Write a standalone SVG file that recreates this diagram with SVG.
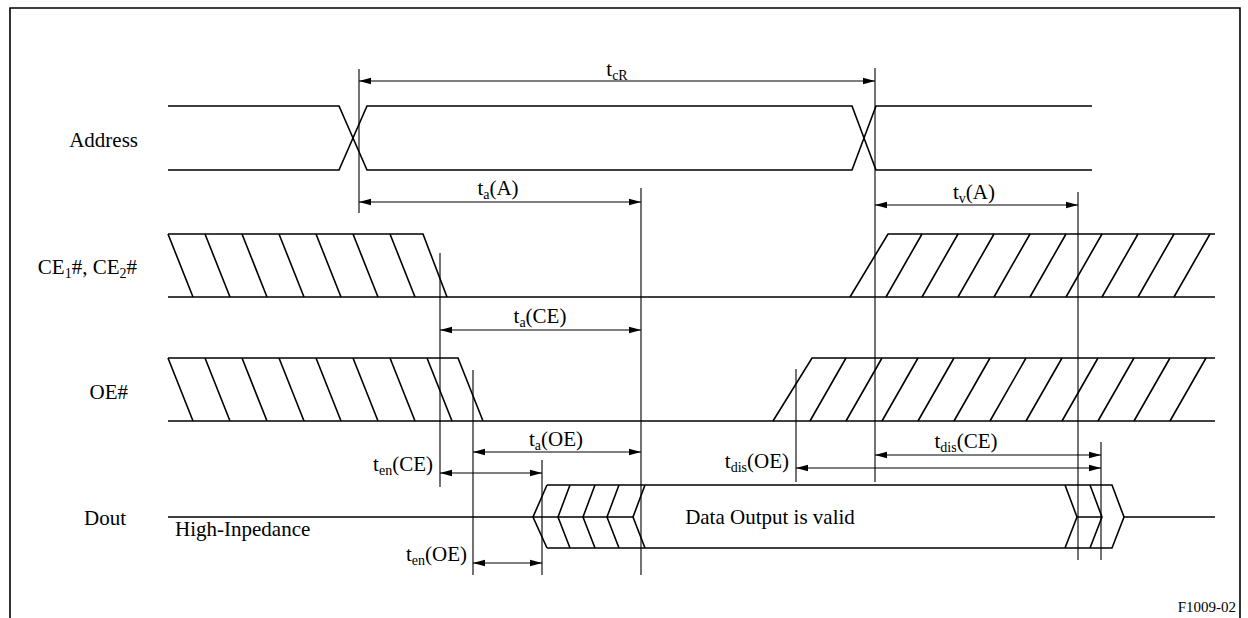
<svg xmlns="http://www.w3.org/2000/svg" width="1248" height="618" viewBox="0 0 1248 618">
<style>
.sig{fill:none;stroke:#000;stroke-width:1.6;stroke-linejoin:miter}
.dim{fill:none;stroke:#000;stroke-width:1.1}
.arr{fill:none;stroke:#000;stroke-width:1.1;marker-start:url(#ah);marker-end:url(#ah)}
.lbl{font-family:"Liberation Serif","Times New Roman",serif;font-size:21px;fill:#000}
.sub{font-size:14px}
</style>
<defs>
<marker id="ah" markerUnits="userSpaceOnUse" markerWidth="12" markerHeight="8" refX="12" refY="4" orient="auto-start-reverse">
<path d="M0,0.8 L12,4 L0,7.2 z" fill="#000"/>
</marker>
</defs>
<rect x="0" y="0" width="1248" height="618" fill="#fff"/>
<path class="sig" d="M10,640 L10,8 L1240,8 L1240,640" stroke-width="1.3"/>

<g id="address">
<text class="lbl" x="138" y="147" text-anchor="end">Address</text>
<path class="sig" d="M168,106 H339 L367,170 H852 L876,106 H1092"/>
<path class="sig" d="M168,170 H339 L367,106 H852 L876,170 H1092"/>
</g>

<g id="ce">
<text class="lbl" x="137" y="274" text-anchor="end">CE<tspan class="sub" dy="4">1</tspan><tspan dy="-4">#, CE</tspan><tspan class="sub" dy="4">2</tspan><tspan dy="-4">#</tspan></text>
<path class="sig" d="M168,234 H423 L447,297"/>
<path class="sig" d="M168,297 H1215"/>
<path class="sig" d="M850,297 L888,234 H1215"/>
<path class="sig" d="M168,234 L193,297 M205,234 L230,297 M242,234 L267,297 M279,234 L304,297 M316,234 L341,297 M353,234 L378,297 M390,234 L415,297"/>
<path class="sig" d="M886,297 L922,234 M922,297 L958,234 M958,297 L994,234 M994,297 L1030,234 M1030,297 L1066,234 M1066,297 L1102,234 M1102,297 L1138,234 M1138,297 L1174,234 M1174,297 L1210,234"/>
</g>

<g id="oe">
<text class="lbl" x="128" y="399" text-anchor="end">OE#</text>
<path class="sig" d="M168,358 H458 L483,421"/>
<path class="sig" d="M168,421 H1215"/>
<path class="sig" d="M773,421 L812,358 H1215"/>
<path class="sig" d="M168,358 L193,421 M205,358 L230,421 M242,358 L267,421 M279,358 L304,421 M316,358 L341,421 M353,358 L378,421 M390,358 L415,421 M427,358 L452,421"/>
<path class="sig" d="M810,421 L846,358 M846,421 L882,358 M882,421 L918,358 M918,421 L954,358 M954,421 L990,358 M990,421 L1026,358 M1026,421 L1062,358 M1062,421 L1098,358 M1098,421 L1134,358 M1134,421 L1170,358 M1170,421 L1206,358"/>
</g>

<g id="dout">
<text class="lbl" x="126" y="525" text-anchor="end">Dout</text>
<text class="lbl" x="175" y="536">High-Inpedance</text>
<path class="sig" d="M168,517 H633 M1077,517 H1102 M1124,517 H1215"/>
<path class="sig" d="M547,485 L533,517 L547,548"/>
<path class="sig" d="M547,485 H1112 L1124,517 L1112,548 H547"/>
<path class="sig" d="M570,485 L558,517 L570,548 M595,485 L583,517 L595,548 M619,485 L607,517 L619,548 M645,485 L633,517 L645,548"/>
<path class="sig" d="M1065,485 L1077,517 L1065,548 M1090,485 L1102,517 L1090,548"/>
<text class="lbl" x="770" y="524" text-anchor="middle">Data Output is valid</text>
</g>

<g id="connectors">
<path class="dim" d="M359,69 V213 M875,68 V482 M641,188 V575 M1078,192 V560 M440,253 V487 M473,370 V575 M542,460 V575 M796,369 V482 M1101,442 V560"/>
<path class="arr" d="M359,81 H875"/>
<path class="arr" d="M359,202 H641"/>
<path class="arr" d="M875,205 H1078"/>
<path class="arr" d="M440,330 H641"/>
<path class="arr" d="M473,452 H641"/>
<path class="arr" d="M440,473 H542"/>
<path class="arr" d="M473,563 H542"/>
<path class="arr" d="M875,455 H1101"/>
<path class="arr" d="M796,468 H1101"/>
</g>

<g id="labels">
<text class="lbl" x="617" y="76" text-anchor="middle">t<tspan class="sub" dy="4">cR</tspan></text>
<text class="lbl" x="498" y="195" text-anchor="middle">t<tspan class="sub" dy="4">a</tspan><tspan dy="-4">(A)</tspan></text>
<text class="lbl" x="974" y="199" text-anchor="middle">t<tspan class="sub" dy="4">v</tspan><tspan dy="-4">(A)</tspan></text>
<text class="lbl" x="540" y="323" text-anchor="middle">t<tspan class="sub" dy="4">a</tspan><tspan dy="-4">(CE)</tspan></text>
<text class="lbl" x="556" y="446" text-anchor="middle">t<tspan class="sub" dy="4">a</tspan><tspan dy="-4">(OE)</tspan></text>
<text class="lbl" x="433" y="471" text-anchor="end">t<tspan class="sub" dy="4">en</tspan><tspan dy="-4">(CE)</tspan></text>
<text class="lbl" x="467" y="561" text-anchor="end">t<tspan class="sub" dy="4">en</tspan><tspan dy="-4">(OE)</tspan></text>
<text class="lbl" x="966" y="448" text-anchor="middle">t<tspan class="sub" dy="4">dis</tspan><tspan dy="-4">(CE)</tspan></text>
<text class="lbl" x="789" y="468" text-anchor="end">t<tspan class="sub" dy="4">dis</tspan><tspan dy="-4">(OE)</tspan></text>
<text class="lbl" x="1236" y="612" text-anchor="end" style="font-size:15px">F1009-02</text>
</g>
</svg>
